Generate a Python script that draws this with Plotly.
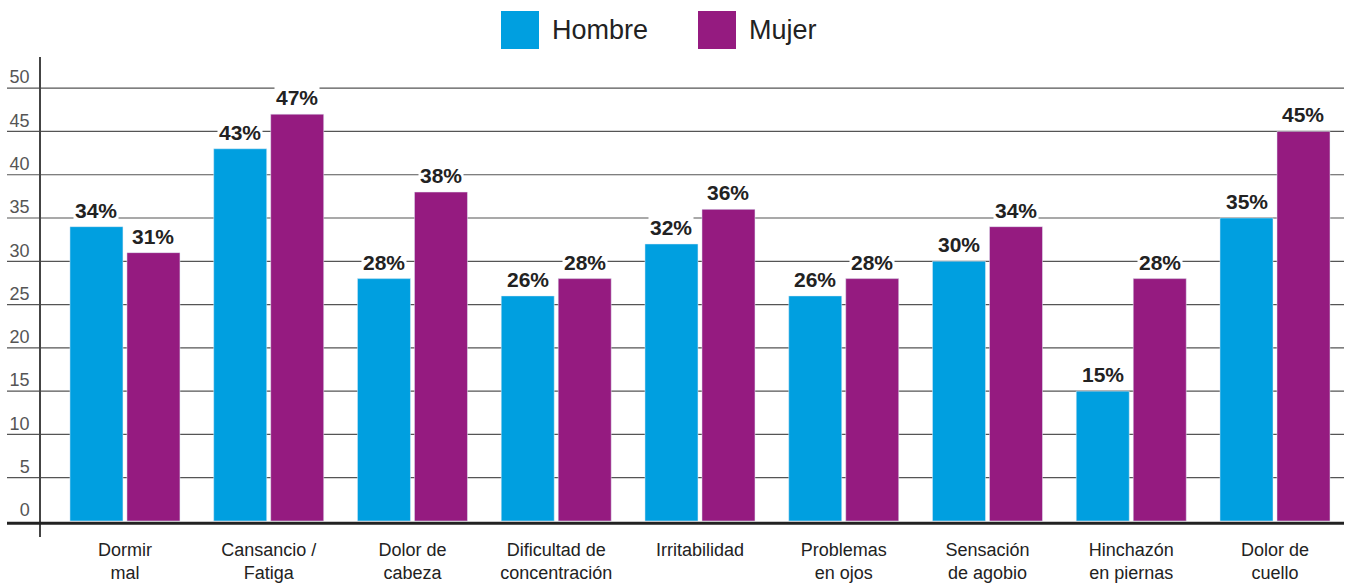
import plotly.graph_objects as go

# -----------------------------------
# |            DATI                 |
# -----------------------------------
categorie = ["Dormir<br>mal", "Cansancio /<br>Fatiga", "Dolor de<br>cabeza",
             "Dificultad de<br>concentración", "Irritabilidad", "Problemas<br>en ojos",
             "Sensación<br>de agobio", "Hinchazón<br>en piernas", "Dolor de<br>cuello"]
hombre = [34, 43, 28, 26, 32, 26, 30, 15, 35]
mujer = [31, 47, 38, 28, 36, 28, 34, 28, 45]
y_ticks = [0, 5, 10, 15, 20, 25, 30, 35, 40, 45, 50]

COL_H = "#009FE0"
COL_M = "#951B80"
FONT = "Liberation Sans, Arial, sans-serif"

W, H = 1360, 584
L, R, T, B = 41, 16, 57, 47
pw, ph = W - L - R, H - T - B
X_RANGE = [-0.584, 8.48]
BARGAP, GROUPGAP = 0.207, 0.07


def px_x(x):
    '''pixel -> paper (orizzontale)'''
    return (x - L) / pw


def px_y(y):
    '''pixel -> paper (verticale)'''
    return (H - B - y) / ph


fig = go.Figure()
fig.add_trace(go.Bar(x=categorie, y=hombre, name="Hombre", marker_color=COL_H))
fig.add_trace(go.Bar(x=categorie, y=mujer, name="Mujer", marker_color=COL_M))

# etichette con sfondo bianco (tagliano la griglia come nell'originale)
slot = pw / (X_RANGE[1] - X_RANGE[0]) * (1 - BARGAP) / 2
for serie, shift in [(hombre, -slot / 2), (mujer, slot / 2)]:
    for cat, v in zip(categorie, serie):
        fig.add_annotation(x=cat, y=v, text=f"<b>{v}%</b>", showarrow=False,
                           xshift=shift, yshift=3, yanchor="bottom", bgcolor="white",
                           borderpad=1,
                           font=dict(family=FONT, size=21, color="#222222"))

# griglia che sborda a sinistra dell'asse
for v in y_ticks[1:]:
    fig.add_shape(type="line", xref="paper", yref="y", x0=px_x(7), x1=1, y0=v, y1=v,
                  line=dict(color="#555555", width=1.2), layer="below")
# linea dello zero spessa
fig.add_shape(type="line", xref="paper", yref="y", x0=px_x(7), x1=1, y0=-0.25, y1=-0.25,
              line=dict(color="#222222", width=3), layer="above")

# legenda a mano
for x0, col, nome in [(501, COL_H, "Hombre"), (698, COL_M, "Mujer")]:
    fig.add_shape(type="rect", xref="paper", yref="paper", x0=px_x(x0), x1=px_x(x0 + 38),
                  y0=px_y(49), y1=px_y(11), fillcolor=col, line_width=0)
    fig.add_annotation(xref="paper", yref="paper", x=px_x(x0 + 49), y=px_y(30), text=nome,
                       showarrow=False, xanchor="left", yanchor="middle",
                       font=dict(family=FONT, size=27, color="#222222"))

fig.update_layout(
    width=W, height=H, margin=dict(l=L, r=R, t=T, b=B, autoexpand=False),
    plot_bgcolor="white", paper_bgcolor="white", showlegend=False,
    barmode="group", bargap=BARGAP, bargroupgap=GROUPGAP,
    font=dict(family=FONT),
)
fig.update_xaxes(range=X_RANGE, showgrid=False, zeroline=False, showline=False,
                 ticks="", automargin=False, tickfont=dict(size=18, color="#222222"))
fig.update_yaxes(range=[-1.85, 53.6], tickvals=y_ticks, showgrid=False, zeroline=False,
                 showline=True, linecolor="#444444", linewidth=1.5, ticks="",
                 automargin=False, ticklabelshift=-11, ticklabelstandoff=6,
                 tickfont=dict(size=18, color="#555555"))

fig.write_html("out.html", config={"displayModeBar": False},
               post_script="document.body.style.margin='0';")
